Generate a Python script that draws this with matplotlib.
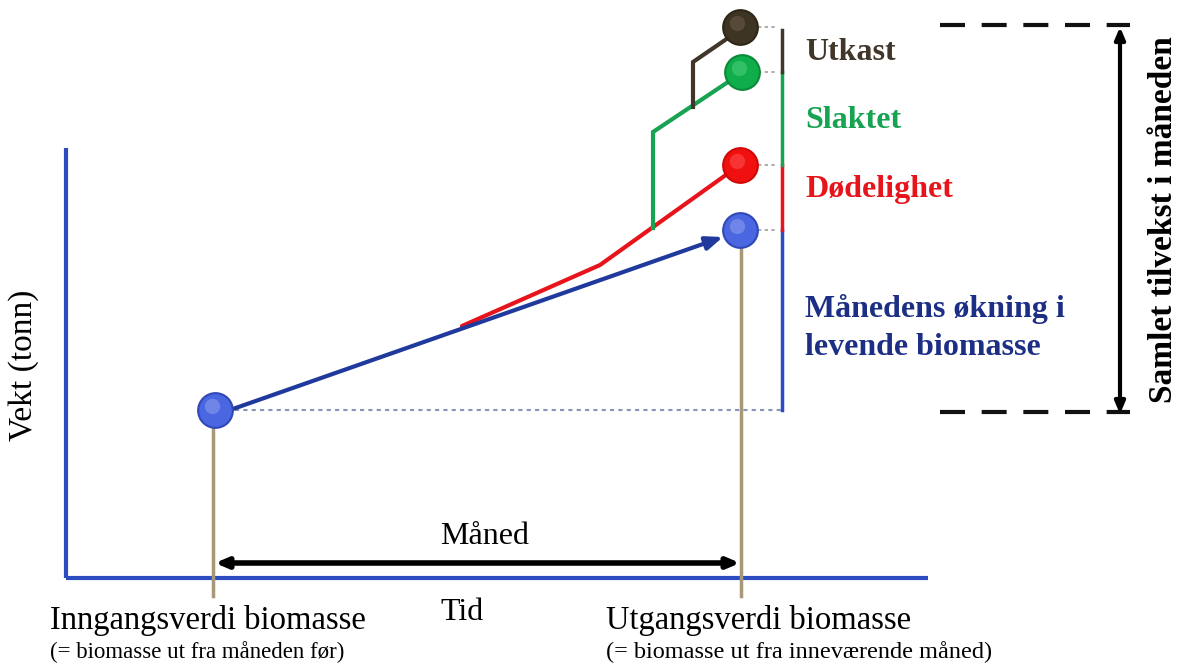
import matplotlib.pyplot as plt

# schematic coordinates (x = time position, y = weight), in figure pixel units
t_in, t_out = 215, 740
t_bar = 782
w_in = 256          # inngangsverdi
w_levende = 436     # utgangsverdi (blue)
w_dod = 501         # + dodelighet (red)
w_slakt = 594       # + slaktet (green)
w_utkast = 639      # + utkast (brown)

# branch paths
red_x = [462, 600, 730]
red_y = [340, 401, 494]
green_x = [653, 653, 728]
green_y = [438, 534, 584]
brown_x = [693, 693, 728]
brown_y = [559, 604, 628]

axis_x0, axis_x1 = 66, 928
axis_y0, axis_y1 = 88, 518

seg_labels = ["Utkast", "Slaktet", "Dødelighet", "Månedens økning i\nlevende biomasse"]
seg_colors = ["#40362a", "#17a352", "#e8141c", "#1c2f85"]
seg_label_y = [614, 546, 476, 338]

BLUE = "#2c4cc0"
STEM = "#a8987a"
SERIF = "Liberation Serif"

fig = plt.figure(figsize=(11.84, 6.66), dpi=100)
ax = fig.add_axes([0, 0, 1, 1])
ax.set_xlim(0, 1184)
ax.set_ylim(0, 666)
ax.axis("off")

# axes of the diagram
ax.plot([axis_x0, axis_x0], [axis_y0, axis_y1], color=BLUE, lw=3, solid_capstyle="butt")
ax.plot([axis_x0, axis_x1], [axis_y0, axis_y0], color=BLUE, lw=3, solid_capstyle="butt")

# stems from points down below the time axis
ax.plot([t_in - 2, t_in - 2], [w_in, 70], color=STEM, lw=2.5, zorder=2)
ax.plot([t_out + 1, t_out + 1], [w_levende, 70], color=STEM, lw=2.5, zorder=2)

# dotted baseline from start value
ax.plot([t_in + 20, t_bar], [w_in, w_in], color="#8a94b8", lw=1.5, ls=(0, (2, 2)), zorder=2)

# stacked growth bar
ax.plot([t_bar, t_bar], [w_in, w_levende], color=BLUE, lw=2.5, zorder=2)
ax.plot([t_bar, t_bar], [w_levende, w_dod], color="#e8141c", lw=2.5, zorder=2)
ax.plot([t_bar, t_bar], [w_dod, w_slakt], color="#17a352", lw=2.5, zorder=2)
ax.plot([t_bar, t_bar], [w_slakt, w_utkast - 3], color="#40362a", lw=2.5, zorder=2)

# small grey dashes from points to bar
for w in [w_levende, w_dod, w_slakt, w_utkast]:
    ax.plot([t_out + 18, t_bar - 4], [w, w], color="#a0a0a0", lw=1.2, ls=(0, (2, 2)), zorder=2)

# branch lines
ax.plot(red_x, red_y, color="#e8141c", lw=3, zorder=3, solid_capstyle="round")
ax.plot(green_x, green_y, color="#17a352", lw=3, zorder=3, solid_joinstyle="miter")
ax.plot(brown_x, brown_y, color="#40362a", lw=3, zorder=3, solid_joinstyle="miter")

# blue growth arrow
ax.annotate("", xy=(t_out - 17, w_levende - 7), xytext=(t_in + 15, w_in),
            arrowprops=dict(arrowstyle="-|>,head_length=1.0,head_width=0.4",
                            color="#1f3a9c", lw=3, shrinkA=0, shrinkB=0), zorder=4)


def ball(x, y, face, edge, hi):
    ax.plot(x, y, "o", ms=25, mfc=face, mec=edge, mew=1.5, zorder=5)
    ax.plot(x - 3, y + 4, "o", ms=11, mfc=hi, mec="none", alpha=0.55, zorder=6)


ball(t_in, w_in, "#4a66e0", "#3048b8", "#8fa2f0")
ball(t_out, w_levende, "#4a66e0", "#3048b8", "#8fa2f0")
ball(t_out, w_dod, "#f01010", "#d00808", "#ff5050")
ball(t_out + 2, w_slakt, "#0fae4a", "#0b8a3a", "#50d080")
ball(t_out, w_utkast, "#3e3424", "#2e2618", "#6a5c48")

# segment labels
for lab, c, y in zip(seg_labels, seg_colors, seg_label_y):
    ax.text(805, y, lab, color=c, fontsize=23, fontweight="bold", family=SERIF,
            ha="left", va="center", linespacing=1.45)

# total growth bracket
for w in [w_in - 2, w_utkast + 2]:
    ax.plot([940, 1130], [w, w], color="#111111", lw=3, ls=(0, (6, 4)))
ax.annotate("", xy=(1120, w_utkast), xytext=(1120, w_in - 4),
            arrowprops=dict(arrowstyle="<|-|>,head_length=0.7,head_width=0.3",
                            color="black", lw=3, shrinkA=0, shrinkB=0))
ax.text(1163, 446, "Samlet tilvekst i måneden", rotation=90, fontsize=24,
        fontweight="bold", family=SERIF, ha="center", va="center")

# month bracket
ax.annotate("", xy=(t_out, 103), xytext=(t_in, 103),
            arrowprops=dict(arrowstyle="<|-|>,head_length=0.7,head_width=0.3",
                            color="black", lw=4, shrinkA=0, shrinkB=0))
ax.text(485, 130, "Måned", fontsize=23, family=SERIF, ha="center", va="center")

# axis texts
ax.text(24, 301, "Vekt (tonn)", rotation=90, fontsize=24, family=SERIF,
        ha="center", va="center")
ax.text(462, 54, "Tid", fontsize=23, family=SERIF, ha="center", va="center")
ax.text(50, 46, "Inngangsverdi biomasse", fontsize=23.5, family=SERIF, ha="left", va="center")
ax.text(50, 14, "(= biomasse ut fra måneden før)", fontsize=16.5, family=SERIF,
        ha="left", va="center")
ax.text(606, 46, "Utgangsverdi biomasse", fontsize=23.5, family=SERIF, ha="left", va="center")
ax.text(606, 14, "(= biomasse ut fra inneværende måned)", fontsize=17.5, family=SERIF,
        ha="left", va="center")

fig.savefig("out.png", dpi=100)
